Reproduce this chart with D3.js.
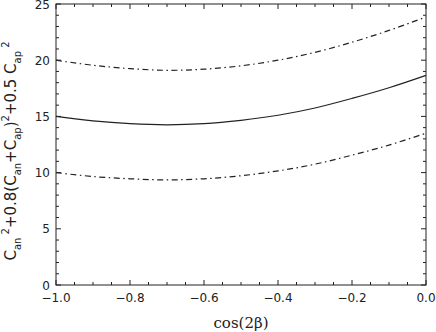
<!DOCTYPE html>
<html><head><meta charset="utf-8">
<script src="https://cdn.jsdelivr.net/npm/d3@7"></script>
<style>body{margin:0;background:#fff}svg{display:block}</style>
</head><body>
<svg id="c" width="436" height="332"></svg>
<script>
const cosVals = [-1.0,-0.9,-0.8,-0.7,-0.6,-0.5,-0.4,-0.3,-0.2,-0.1,0.0];
const centralVals = [15.0,14.6,14.35,14.25,14.35,14.65,15.1,15.75,16.6,17.55,18.65];
const upperVals = [20.0,19.55,19.25,19.1,19.2,19.5,20.0,20.7,21.6,22.65,23.85];
const lowerVals = [10.0,9.65,9.45,9.35,9.45,9.72,10.15,10.75,11.55,12.45,13.5];
const xTicks = [-1.0,-0.8,-0.6,-0.4,-0.2,0.0];
const yTicks = [0,5,10,15,20,25];

const svg = d3.select("#c");
const L=56,R=426,T=4,B=285;
const x = d3.scaleLinear().domain([-1,0]).range([L,R]);
const y = d3.scaleLinear().domain([0,25]).range([B,T]);
const col="#222";
const fmtX = d => d===0 ? "0.0" : "\u2212"+Math.abs(d).toFixed(1);

svg.append("rect").attr("x",L).attr("y",T).attr("width",R-L).attr("height",B-T)
  .attr("fill","none").attr("stroke",col).attr("stroke-width",1);

const minorX = d3.range(-1,0.0001,0.05), minorY = d3.range(0,25.001,1);
const g = svg.append("g").attr("stroke",col).attr("stroke-width",1);
minorX.forEach(v=>{
  const major = xTicks.some(t=>Math.abs(t-v)<1e-6);
  const len = major?5:3;
  g.append("line").attr("x1",x(v)).attr("x2",x(v)).attr("y1",B).attr("y2",B-len);
  g.append("line").attr("x1",x(v)).attr("x2",x(v)).attr("y1",T).attr("y2",T+len);
});
minorY.forEach(v=>{
  const major = Math.abs(v%5)<1e-6;
  const len = major?5:3;
  g.append("line").attr("y1",y(v)).attr("y2",y(v)).attr("x1",L).attr("x2",L+len);
  g.append("line").attr("y1",y(v)).attr("y2",y(v)).attr("x1",R).attr("x2",R-len);
});

const font = "DejaVu Sans, sans-serif";
svg.append("g").selectAll("text").data(xTicks).join("text")
  .attr("x",d=>x(d)).attr("y",302).attr("text-anchor","middle")
  .attr("font-family",font).attr("font-size",12).attr("fill",col).text(fmtX);
svg.append("g").selectAll("text").data(yTicks).join("text")
  .attr("x",50).attr("y",d=>y(d)+4.5).attr("text-anchor","end")
  .attr("font-family",font).attr("font-size",12).attr("fill",col).text(d=>d);

svg.append("text").attr("x",(L+R)/2).attr("y",328).attr("text-anchor","middle")
  .attr("font-family","DejaVu Serif, serif").attr("font-size",15).attr("fill",col)
  .text("cos(2\u03b2)");

const yl = svg.append("text").attr("transform",`translate(16,151) rotate(-90)`)
  .attr("text-anchor","middle").attr("font-family",font).attr("font-size",15).attr("fill",col);
const parts = [["C",0],["an",-1],[" 2",1],["+0.8(C",0],["an",-1],["+C",0],["ap",-1],[")",0],["2",1],["+0.5 C",0],["ap",-1],[" 2",1]];
let prev=0;
parts.forEach(([t,s])=>{
  const ts = yl.append("tspan").text(t).attr("xml:space","preserve");
  const off = s===-1?5:(s===1?-7:0);
  ts.attr("dy",off-prev); prev=off;
  if(s!==0) ts.attr("font-size",10);
});

const line = d3.line().x((d,i)=>x(cosVals[i])).y(d=>y(d)).curve(d3.curveCatmullRom);
svg.append("path").attr("d",line(centralVals)).attr("fill","none").attr("stroke",col).attr("stroke-width",1.2);
[upperVals,lowerVals].forEach(v=>{
  svg.append("path").attr("d",line(v)).attr("fill","none").attr("stroke",col).attr("stroke-width",1.2)
    .attr("stroke-dasharray","6,3.5,1.5,3.5");
});
</script>
</body></html>
